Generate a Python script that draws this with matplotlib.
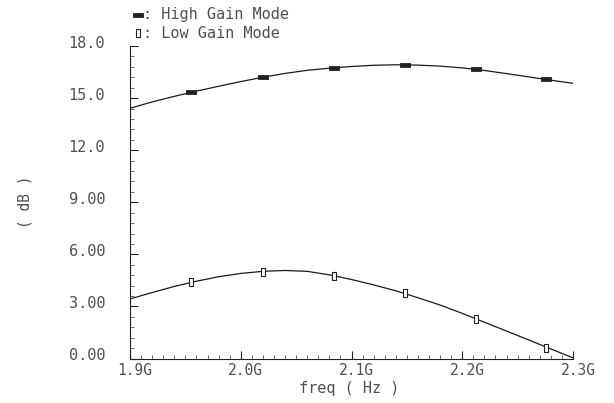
import matplotlib
matplotlib.use("Agg")
import matplotlib.pyplot as plt
from matplotlib.path import Path
from matplotlib.transforms import ScaledTranslation
import numpy as np

# ---- data ----
freq_ghz = [1.90, 1.92, 1.94, 1.96, 1.98, 2.00, 2.02, 2.04, 2.06, 2.08, 2.10,
            2.12, 2.14, 2.16, 2.18, 2.20, 2.22, 2.24, 2.26, 2.28, 2.30]
high_gain_db = [14.41, 14.78, 15.10, 15.40, 15.68, 15.95, 16.20, 16.42, 16.60, 16.72, 16.82,
                16.89, 16.92, 16.90, 16.84, 16.74, 16.59, 16.41, 16.22, 16.03, 15.85]
low_gain_db = [3.43, 3.80, 4.15, 4.45, 4.71, 4.90, 5.02, 5.07, 5.02, 4.82, 4.55,
               4.24, 3.90, 3.50, 3.08, 2.60, 2.09, 1.58, 1.07, 0.55, 0.04]

marker_freq_ghz = [1.955, 2.020, 2.084, 2.148, 2.212, 2.276]
high_marker_db = [15.34, 16.22, 16.73, 16.91, 16.66, 16.08]
low_marker_db = [4.41, 5.00, 4.77, 3.76, 2.28, 0.63]

x_ticks = [1.9, 2.0, 2.1, 2.2, 2.3]
x_tick_labels = ["1.9G", "2.0G", "2.1G", "2.2G", "2.3G"]
y_ticks = [0, 3, 6, 9, 12, 15, 18]
y_tick_labels = ["0.00", "3.00", "6.00", "9.00", "12.0", "15.0", "18.0"]
legend_labels = [": High Gain Mode", ": Low Gain Mode"]

FONT = ["DejaVu Sans Mono", "DejaVu Sans"]
TXT = "#505050"

# marker shapes
hrect = Path([(-1, -0.38), (1, -0.38), (1, 0.38), (-1, 0.38), (-1, -0.38)],
             [Path.MOVETO, Path.LINETO, Path.LINETO, Path.LINETO, Path.CLOSEPOLY])
vrect = Path([(-0.5, -1), (0.5, -1), (0.5, 1), (-0.5, 1), (-0.5, -1)],
             [Path.MOVETO, Path.LINETO, Path.LINETO, Path.LINETO, Path.CLOSEPOLY])

fig = plt.figure(figsize=(6.14, 4.03), dpi=100)
W, H = 614, 403
left, right, top, bottom = 130, 573, 46, 358.5
ax = fig.add_axes([left / W, 1 - bottom / H, (right - left) / W, (bottom - top) / H])

ax.plot(freq_ghz, high_gain_db, color="#1a1a1a", lw=0.9)
ax.plot(freq_ghz, low_gain_db, color="#1a1a1a", lw=0.9)
ax.plot(marker_freq_ghz, high_marker_db, ls="none", marker=hrect, ms=7,
        mfc="#222222", mec="#222222", mew=0.6)
ax.plot(marker_freq_ghz, low_marker_db, ls="none", marker=vrect, ms=6,
        mfc="white", mec="#222222", mew=0.8)

ax.set_xlim(1.9, 2.3)
ax.set_ylim(0, 18)

for s in ["top", "right"]:
    ax.spines[s].set_visible(False)
for s in ["left", "bottom"]:
    ax.spines[s].set_linewidth(0.8)
    ax.spines[s].set_color("#222222")

ax.set_xticks(x_ticks)
ax.set_xticklabels(x_tick_labels, family=FONT, fontsize=10.5, color=TXT)
ax.set_yticks(y_ticks)
ax.set_yticklabels(y_tick_labels, family=FONT, fontsize=11, color=TXT)
ax.set_xticks(np.arange(1.9, 2.3001, 0.01), minor=True)
ax.set_yticks(np.arange(0, 18.001, 0.6), minor=True)

ax.tick_params(which="major", direction="in", length=6, width=0.8, color="#222222")
ax.tick_params(which="minor", direction="in", length=3, width=0.6, color="#555555")
ax.tick_params(axis="y", which="major", pad=18)
ax.tick_params(axis="x", which="major", pad=3)

# small offsets of tick labels as in reference
for lab in ax.get_yticklabels():
    lab.set_transform(lab.get_transform() + ScaledTranslation(0, 0.04, fig.dpi_scale_trans))
for lab in ax.get_xticklabels():
    lab.set_transform(lab.get_transform() + ScaledTranslation(0.05, 0, fig.dpi_scale_trans))

ax.set_xlabel("freq ( Hz )", family=FONT, fontsize=11, color=TXT)
ax.xaxis.set_label_coords(0.5 - 2 / (right - left), -(389 - bottom) / (bottom - top),
                          transform=ax.transAxes)
ax.xaxis.label.set_va("center")
ax.set_ylabel("( dB )", family=FONT, fontsize=10.5, color=TXT)
ax.yaxis.set_label_coords((25 - left) / (right - left), 0.5)
ax.yaxis.label.set_va("center")

# legend (marker + text) at top
fig.lines.append(plt.Line2D([138 / W], [1 - 15 / H], transform=fig.transFigure,
                            ls="none", marker=hrect, ms=7, mfc="#222222", mec="#222222", mew=0.6))
fig.lines.append(plt.Line2D([138 / W], [1 - 33 / H], transform=fig.transFigure,
                            ls="none", marker=vrect, ms=6, mfc="white", mec="#222222", mew=0.8))
fig.text(143 / W, 1 - 15 / H, legend_labels[0], family=FONT, fontsize=11, color=TXT,
         ha="left", va="center")
fig.text(143 / W, 1 - 33 / H, legend_labels[1], family=FONT, fontsize=11, color=TXT,
         ha="left", va="center")

fig.savefig("out.png", dpi=100)
